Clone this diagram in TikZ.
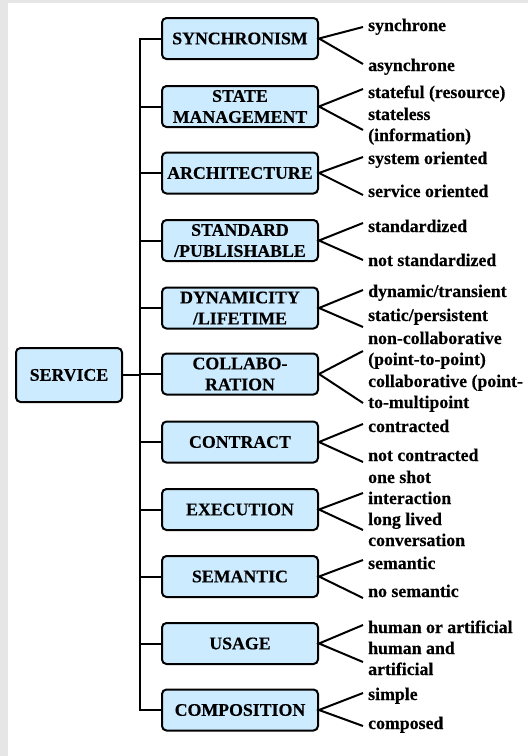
\documentclass[tikz,border=0pt]{standalone}
\usepackage{fontspec}
\setmainfont{Liberation Serif}[BoldFeatures={FakeBold=0.4}]
\definecolor{boxfill}{RGB}{204,235,255}
\definecolor{pagegray}{RGB}{230,230,230}
\begin{document}
\begin{tikzpicture}[x=1pt,y=-1pt,
  txt/.style={font=\fontsize{17.8}{21}\selectfont\bfseries},
  cat/.style={txt, draw=black, line width=2pt, rounded corners=4.5pt, fill=boxfill,
    minimum width=156pt, minimum height=41pt, inner sep=0pt, align=center},
  root/.style={cat, minimum width=106pt, minimum height=54pt},
  lab/.style={txt, anchor=base west, inner sep=0pt},
  link/.style={line width=2pt}]
% page
\useasboundingbox (0,0) rectangle (528,756);
\fill[pagegray] (0,0) rectangle (528,756);
\fill[white] (8,3) rectangle (528,756);

% root and categories
\node[root] (service) at (69,375) {SERVICE};
\node[cat] (sync)     at (240,38.5)  {SYNCHRONISM};
\node[cat] (state)    at (240,106.5) {STATE\\MANAGEMENT};
\node[cat] (arch)     at (240,173)   {ARCHITECTURE};
\node[cat] (std)      at (240,240.5) {STANDARD\\/PUBLISHABLE};
\node[cat] (dyn)      at (240,308)   {DYNAMICITY\\/LIFETIME};
\node[cat] (collab)   at (240,374)   {COLLABO-\\RATION};
\node[cat] (contract) at (240,442)   {CONTRACT};
\node[cat] (exec)     at (240,509.5) {EXECUTION};
\node[cat] (sem)      at (240,576.5) {SEMANTIC};
\node[cat] (usage)    at (240,643.5) {USAGE};
\node[cat] (comp)     at (240,710)   {COMPOSITION};

% spine
\coordinate (spine) at (140,0);
\draw[link] (sync.west) -- (sync.west -| spine) -- (comp.west -| spine) -- (comp.west);
\foreach \n in {state,arch,std,dyn,collab,contract,exec,sem,usage}
  \draw[link] (\n.west) -- (\n.west -| spine);
\draw[link] (service.east) -- (service.east -| spine);

% fork ends
\foreach \n/\u/\d in {sync/27/64, state/89/130, arch/157/195, std/223/260,
    dyn/290/327, collab/351/403, contract/424/462, exec/493/530,
    sem/560/598, usage/625/662, comp/693/726} {
  \coordinate (\n-up) at (363,\u);
  \coordinate (\n-dn) at (363,\d);
  \draw[link, line join=miter] (\n-up) -- (\n.east) -- (\n-dn);
}

% values
\node[lab] (sync-a) at (368,31) {synchrone};
\node[lab] (sync-b) at (368,71) {asynchrone};
\node[lab] (state-a) at (368,98) {stateful (resource)};
\node[lab] (state-b) at (368,120) {stateless};
\node[lab] (state-c) at (368,141) {(information)};
\node[lab] (arch-a) at (368,164) {system oriented};
\node[lab] (arch-b) at (368,197) {service oriented};
\node[lab] (std-a) at (368,232) {standardized};
\node[lab] (std-b) at (368,266) {not standardized};
\node[lab] (dyn-a) at (368,297) {dynamic/transient};
\node[lab] (dyn-b) at (368,321) {static/persistent};
\node[lab] (collab-a) at (368,344) {non-collaborative};
\node[lab] (collab-b) at (368,365) {(point-to-point)};
\node[lab] (collab-c) at (368,387) {collaborative (point-};
\node[lab] (collab-d) at (368,408) {to-multipoint};
\node[lab] (contract-a) at (368,432) {contracted};
\node[lab] (contract-b) at (368,461) {not contracted};
\node[lab] (exec-a) at (368,483) {one shot};
\node[lab] (exec-b) at (368,504) {interaction};
\node[lab] (exec-c) at (368,525) {long lived};
\node[lab] (exec-d) at (368,546) {conversation};
\node[lab] (sem-a) at (368,569) {semantic};
\node[lab] (sem-b) at (368,597) {no semantic};
\node[lab] (usage-a) at (368,633) {human or artificial};
\node[lab] (usage-b) at (368,654) {human and};
\node[lab] (usage-c) at (368,675) {artificial};
\node[lab] (comp-a) at (368,700) {simple};
\node[lab] (comp-b) at (368,729) {composed};
\end{tikzpicture}
\end{document}
